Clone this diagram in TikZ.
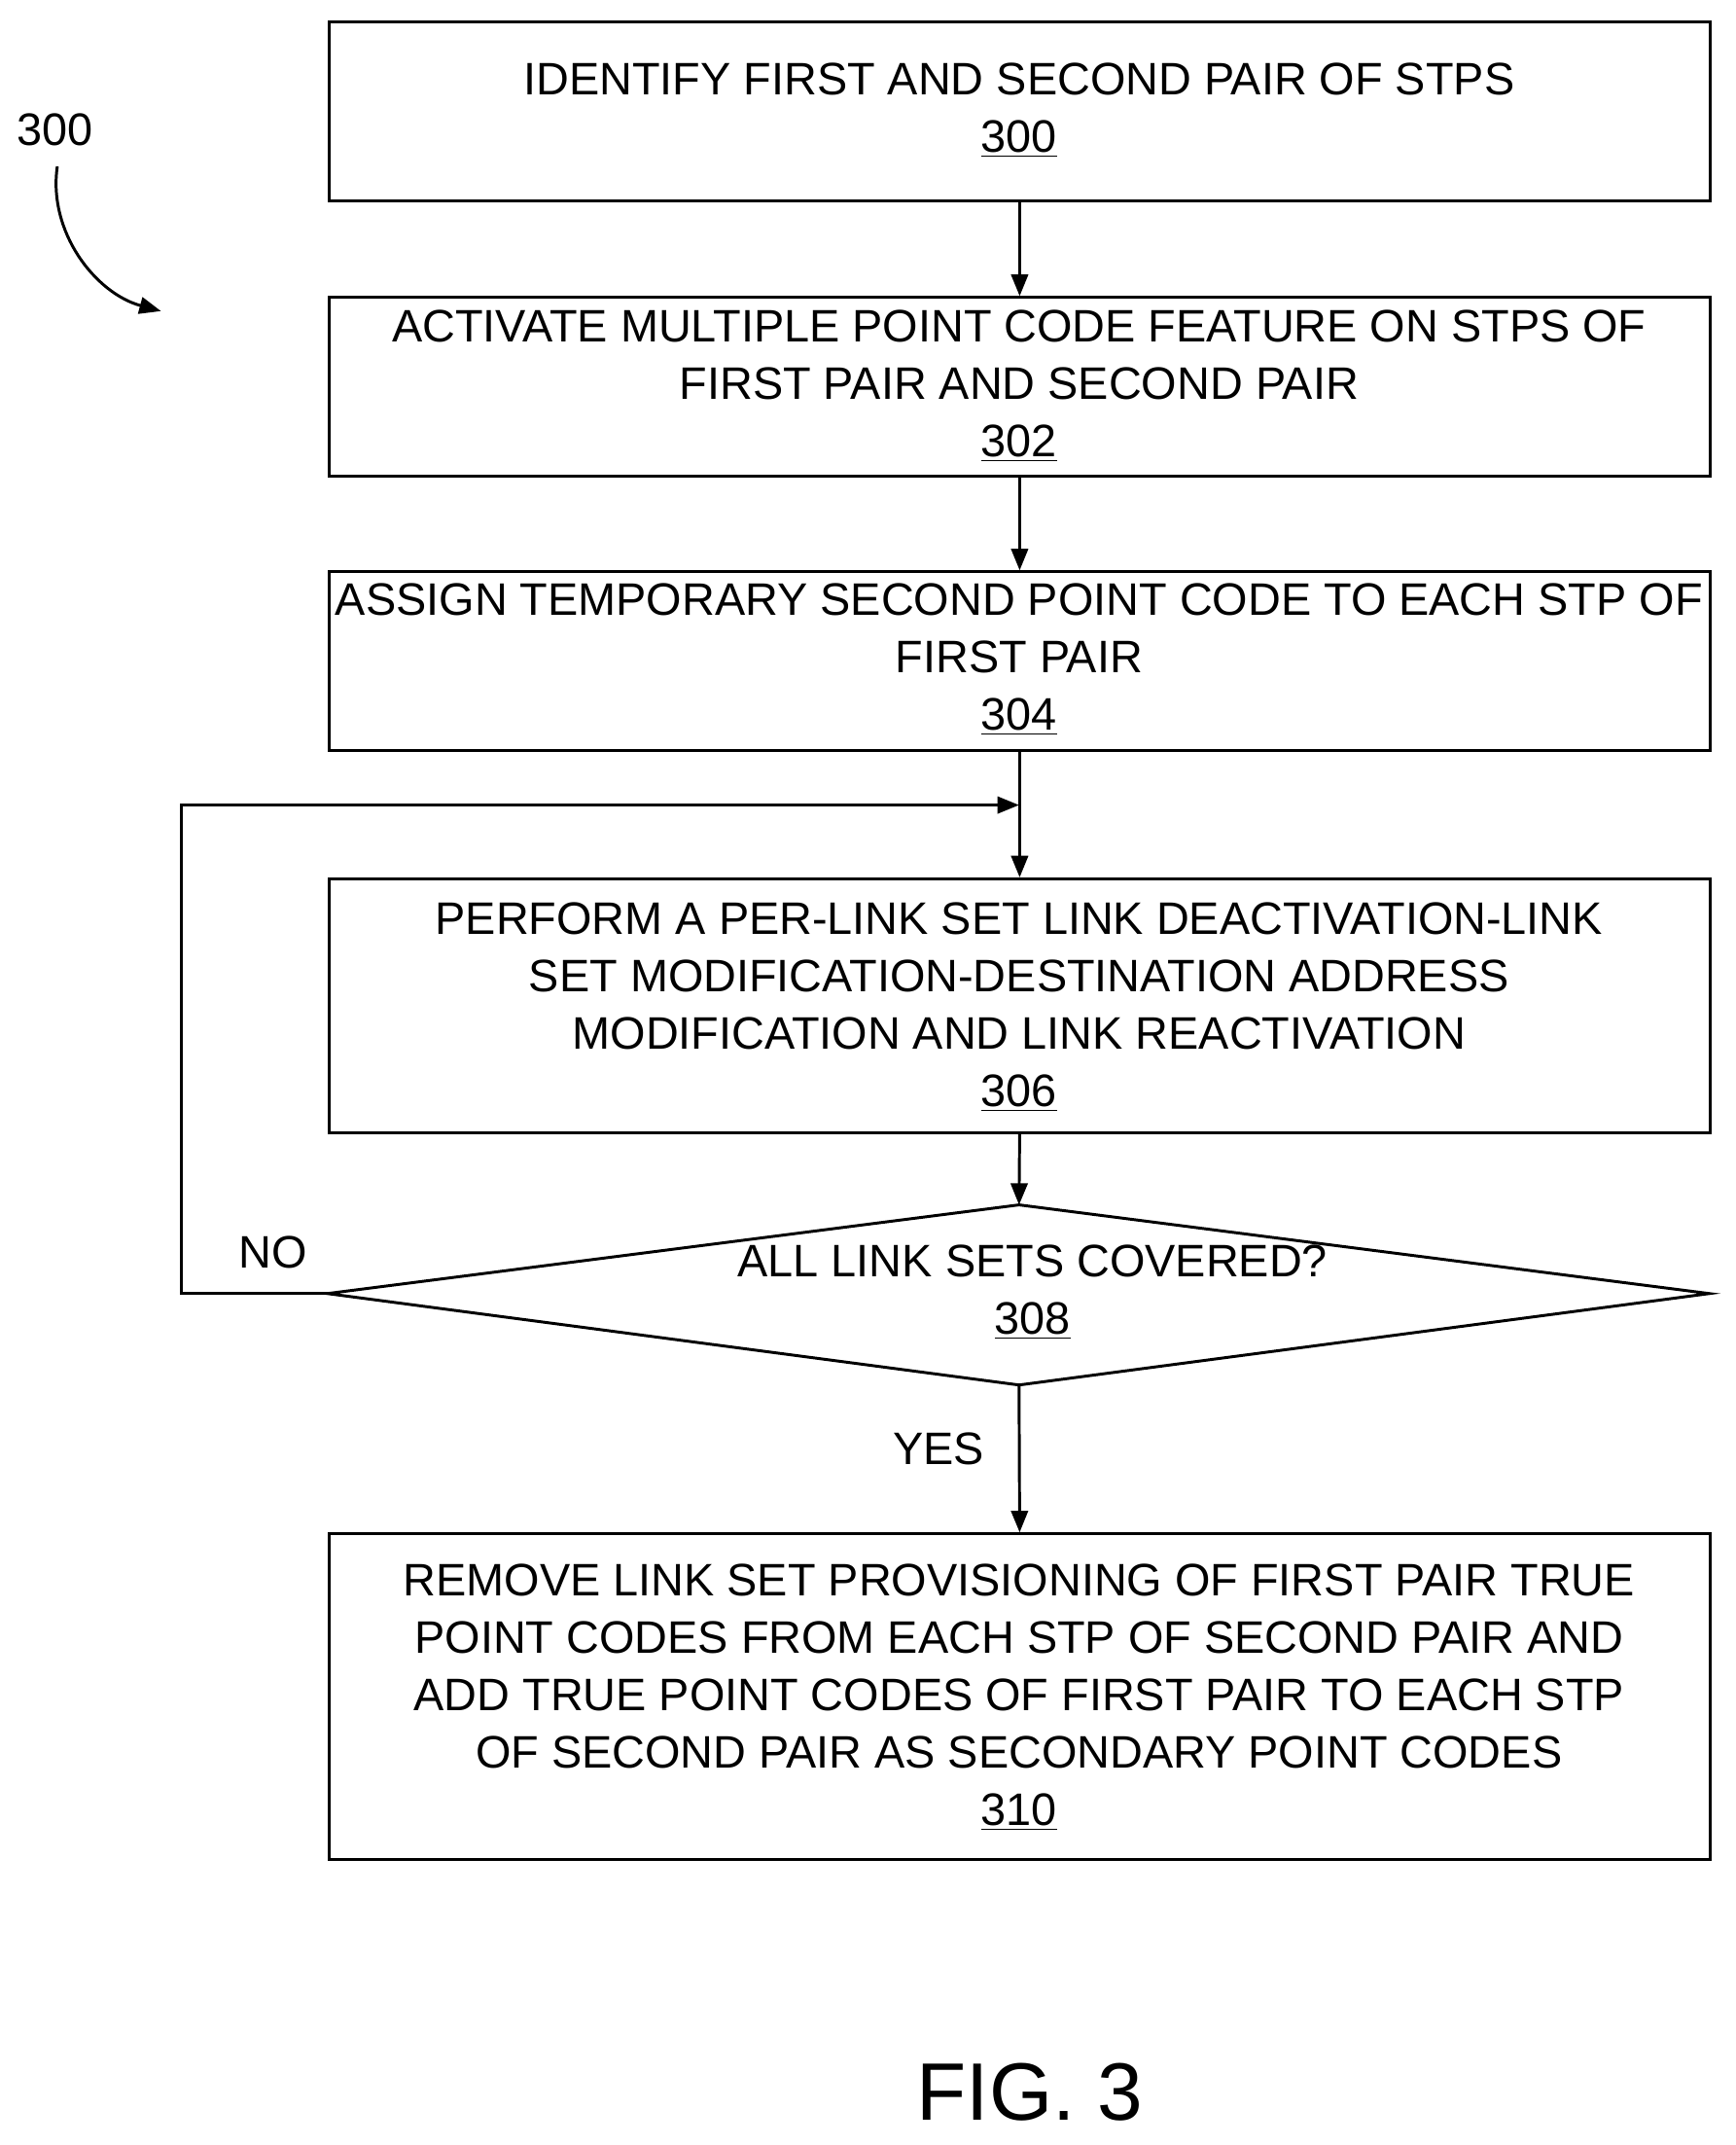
\documentclass[tikz,border=0pt]{standalone}
\usepackage{fontspec}
\setmainfont{Liberation Sans}
\usetikzlibrary{arrows.meta,shapes.geometric}
\begin{document}
\begin{tikzpicture}[x=0.02cm,y=-0.02cm,
  box/.style={draw,line width=1.2pt,minimum width=20.26cm,anchor=north west,inner sep=0pt},
  txt/.style={font=\fontsize{19}{24}\selectfont,align=center},
  arr/.style={line width=1.2pt,-{Triangle[length=9pt,width=7pt]}}]
\useasboundingbox (0,0) rectangle (1272,1572);
\node[box,minimum height=2.62cm] (b1) at (240,15) {};
\node[box,minimum height=2.62cm] (b2) at (240,217) {};
\node[box,minimum height=2.62cm] (b3) at (240,418) {};
\node[box,minimum height=3.72cm] (b4) at (240,643) {};
\node[box,minimum height=4.78cm] (b5) at (240,1123) {};
\draw[line width=1.2pt] (240,948) coordinate (dl) -- (747,883) coordinate (dt) -- (1253,948) coordinate (dr) -- (747,1015) coordinate (db) -- cycle;
\node[txt] (t1) at (747,81) {IDENTIFY FIRST AND SECOND PAIR OF STPS\\\underline{300}};
\node[txt] (t2) at (747,283) {ACTIVATE MULTIPLE POINT CODE FEATURE ON STPS OF\\FIRST PAIR AND SECOND PAIR\\\underline{302}};
\node[txt] (t3) at (747,483) {ASSIGN TEMPORARY SECOND POINT CODE TO EACH STP OF\\FIRST PAIR\\\underline{304}};
\node[txt] (t4) at (747,738) {PERFORM A PER-LINK SET LINK DEACTIVATION-LINK\\SET MODIFICATION-DESTINATION ADDRESS\\MODIFICATION AND LINK REACTIVATION\\\underline{306}};
\node[txt] (t5) at (757,947) {ALL LINK SETS COVERED?\\\underline{308}};
\node[txt] (t6) at (747,1244) {REMOVE LINK SET PROVISIONING OF FIRST PAIR TRUE\\POINT CODES FROM EACH STP OF SECOND PAIR AND\\ADD TRUE POINT CODES OF FIRST PAIR TO EACH STP\\OF SECOND PAIR AS SECONDARY POINT CODES\\\underline{310}};
\node[txt] (no) at (200,918) {NO};
\node[txt] (yes) at (688,1062) {YES};
\node[txt] (lbl) at (40,95) {300};
\node[font=\fontsize{34}{40}\selectfont] (fig) at (755,1533) {FIG. 3};
\draw[arr] (b1.south) -- (b2.north);
\draw[arr] (b2.south) -- (b3.north);
\draw[arr] (b3.south) -- (b4.north);
\draw[arr] (b4.south) -- (dt);
\draw[arr] (db) -- (b5.north);
\coordinate (c1) at (133,948);
\coordinate (c2) at (133,590);
\coordinate (c3) at (747,590);
\draw[arr] (dl) -- (c1) -- (c2) -- (c3);
\coordinate (s) at (42,122);
\coordinate (e) at (118,228);
\draw[arr] (s) .. controls (35,170) and (70,215) .. (e);
\end{tikzpicture}
\end{document}
